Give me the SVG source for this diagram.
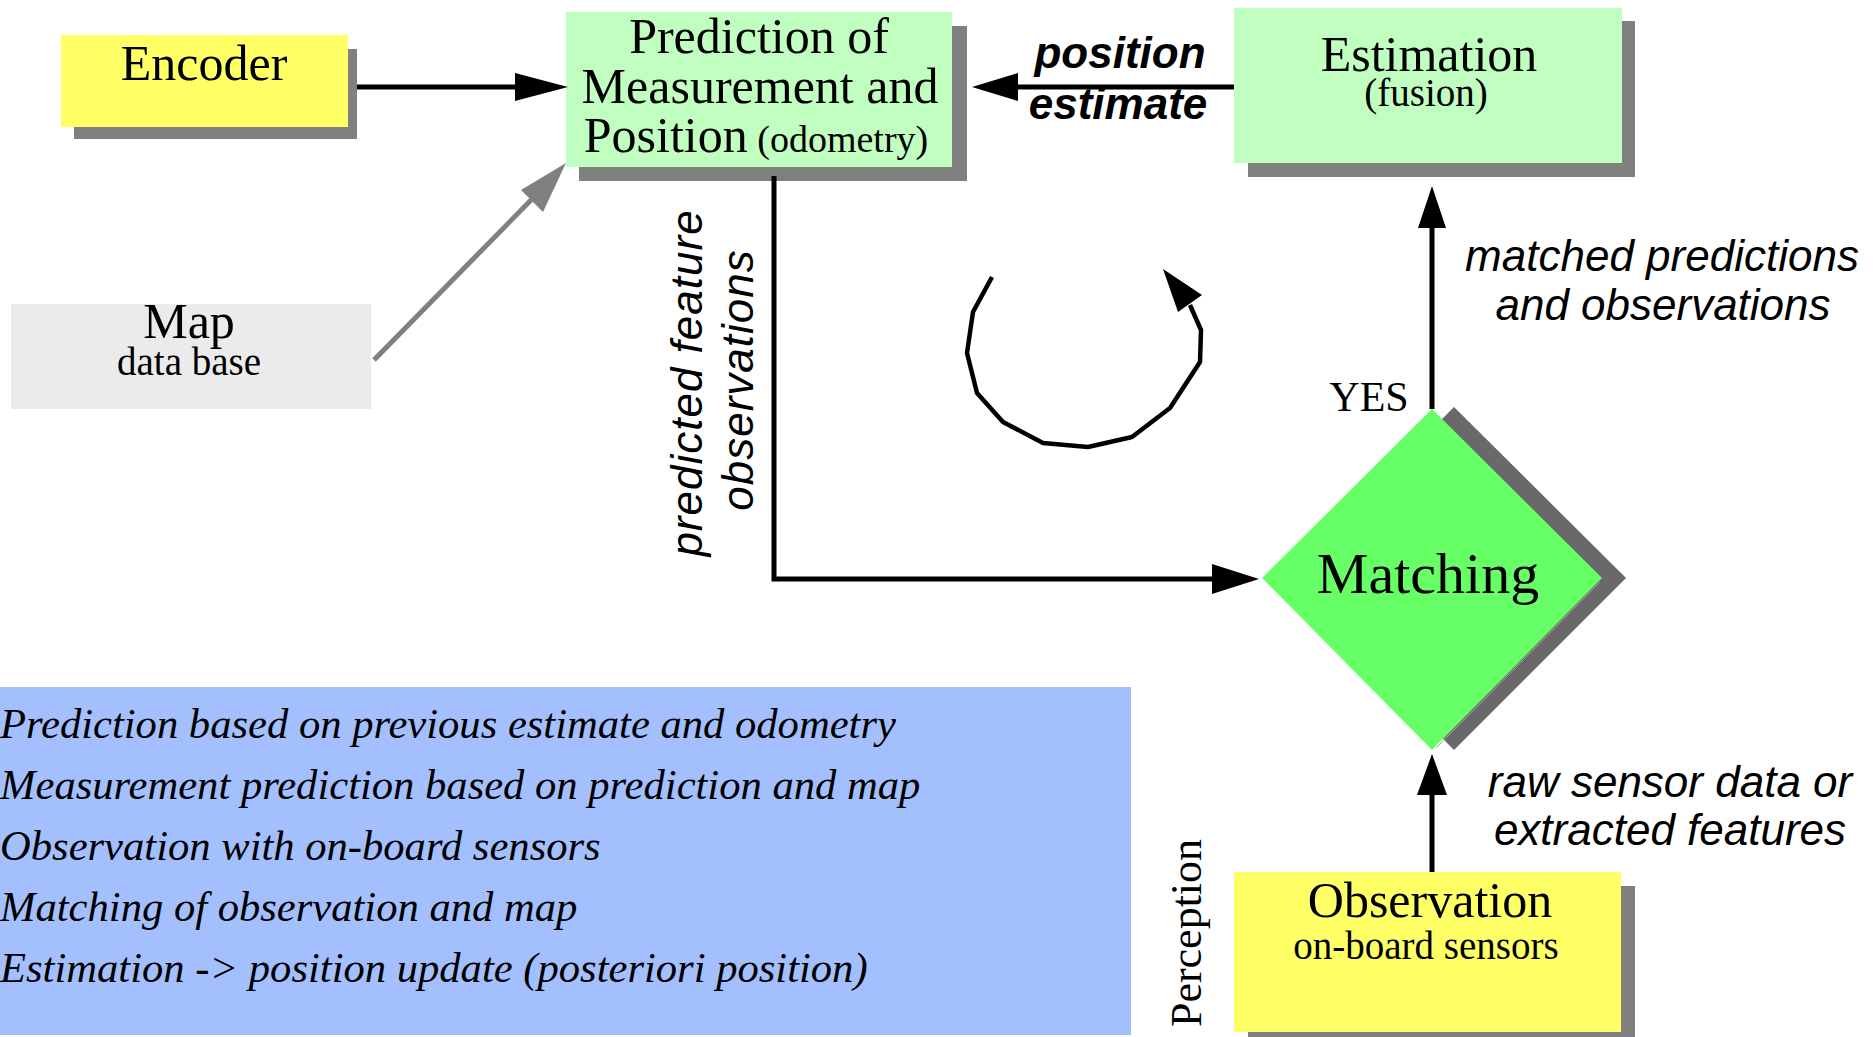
<svg xmlns="http://www.w3.org/2000/svg" width="1873" height="1037" viewBox="0 0 1873 1037">
<style>
.serif{font-family:"Liberation Serif","Times New Roman",serif;fill:#000}
.sans{font-family:"Liberation Sans",Arial,sans-serif;fill:#000}
.big{font-size:50px}
.small{font-size:39px}
.lbl{font-family:"Liberation Sans",Arial,sans-serif;font-style:italic;font-size:44px;fill:#000}
.shadow{fill:#808080}
.conn{stroke:#000;stroke-width:5;fill:none}
.head{fill:#000}
.note{font-family:"Liberation Serif","Times New Roman",serif;font-style:italic;font-size:42.6px;fill:#000}
</style>
<rect width="1873" height="1037" fill="#fff"/>

<g id="legend">
<rect x="0" y="687" width="1131" height="348" fill="#a3bffe"/>
<text class="note" x="0" y="738">Prediction based on previous estimate and odometry</text>
<text class="note" x="0" y="799">Measurement prediction based on prediction and map</text>
<text class="note" x="0" y="860">Observation with on-board sensors</text>
<text class="note" x="0" y="921">Matching of observation and map</text>
<text class="note" x="0" y="982">Estimation -&gt; position update (posteriori position)</text>
</g>

<g id="encoder">
<rect class="shadow" x="74" y="49" width="283" height="90"/>
<rect x="61" y="35" width="287" height="92" fill="#ffff66"/>
<text class="serif big" x="204" y="80" text-anchor="middle">Encoder</text>
</g>

<g id="prediction">
<rect class="shadow" x="579" y="26" width="388" height="155"/>
<rect x="566" y="12" width="386" height="155" fill="#c0ffc0"/>
<text class="serif big" x="759" y="53" text-anchor="middle">Prediction of</text>
<text class="serif big" x="760" y="103" text-anchor="middle">Measurement and</text>
<text class="serif" x="756" y="152" text-anchor="middle"><tspan font-size="50">Position</tspan><tspan font-size="38"> (odometry)</tspan></text>
</g>

<g id="estimation">
<rect class="shadow" x="1248" y="21" width="387" height="156"/>
<rect x="1234" y="8" width="388" height="155" fill="#c0ffc0"/>
<text class="serif big" x="1429" y="71" text-anchor="middle">Estimation</text>
<text class="serif small" x="1426" y="106" text-anchor="middle">(fusion)</text>
</g>

<g id="map">
<rect x="11" y="304" width="360" height="105" fill="#ebebeb"/>
<text class="serif big" x="189" y="338" text-anchor="middle">Map</text>
<text class="serif small" x="189" y="375" text-anchor="middle">data base</text>
</g>

<g id="matching">
<polygon points="1454,407 1626,578 1454,750 1284,578" fill="#696969"/>
<polygon points="1432,409 1602,578 1432,750 1262,578" fill="#66ff66"/>
<line x1="1600" y1="582" x2="1436" y2="748" stroke="#a8a8a8" stroke-width="1"/>
<text class="serif" font-size="58" x="1428" y="593" text-anchor="middle">Matching</text>
</g>

<g id="observation">
<rect class="shadow" x="1248" y="886" width="387" height="151"/>
<rect x="1234" y="872" width="387" height="160" fill="#ffff66"/>
<text class="serif big" x="1430" y="917" text-anchor="middle">Observation</text>
<text class="serif small" x="1426" y="959" text-anchor="middle">on-board sensors</text>
</g>

<g id="connectors">
<!-- Encoder to Prediction -->
<line class="conn" x1="357" y1="87" x2="518" y2="87"/>
<polygon class="head" points="568,87 515,73 515,101"/>
<!-- Map to Prediction -->
<line x1="374" y1="360" x2="535" y2="196" stroke="#808080" stroke-width="5"/>
<polygon points="566,163 521,190 543,212" fill="#808080"/>
<!-- Estimation to Prediction -->
<line class="conn" x1="1234" y1="87" x2="1015" y2="87"/>
<polygon class="head" points="972,87 1018,73 1018,101"/>
<!-- Prediction to Matching -->
<path class="conn" d="M774,176 V579 H1215"/>
<polygon class="head" points="1259,579 1212,564 1212,594"/>
<!-- Matching to Estimation -->
<line class="conn" x1="1432" y1="409" x2="1432" y2="225"/>
<polygon class="head" points="1432,186 1418,228 1446,228"/>
<!-- Observation to Matching -->
<line class="conn" x1="1432" y1="872" x2="1432" y2="792"/>
<polygon class="head" points="1432,754 1417,795 1447,795"/>
<!-- cycle -->
<polyline points="992,277 973,312 967,353 977,393 1003,422 1043,443 1088,447 1132,437 1170,408 1200,362 1201,330 1190,305" fill="none" stroke="#000" stroke-width="4.5" stroke-linejoin="round"/>
<polygon class="head" points="1163,269 1202,295 1178,312"/>
</g>

<g id="labels">
<text class="sans" font-size="44" font-weight="bold" font-style="italic" x="1120" y="68" text-anchor="middle">position</text>
<text class="sans" font-size="44" font-weight="bold" font-style="italic" x="1118" y="119" text-anchor="middle">estimate</text>
<text class="lbl" font-size="43" letter-spacing="1" transform="translate(702,383) rotate(-90)" text-anchor="middle">predicted feature</text>
<text class="lbl" font-size="43" letter-spacing="1" transform="translate(753,380) rotate(-90)" text-anchor="middle">observations</text>
<text class="serif" font-size="42" x="1369" y="411" text-anchor="middle">YES</text>
<text class="lbl" x="1662" y="271" text-anchor="middle">matched predictions</text>
<text class="lbl" x="1663" y="320" text-anchor="middle">and observations</text>
<text class="lbl" x="1670" y="797" text-anchor="middle">raw sensor data or</text>
<text class="lbl" x="1670" y="845" text-anchor="middle">extracted features</text>
<text class="serif" font-size="44" transform="translate(1201,933) rotate(-90)" text-anchor="middle">Perception</text>
</g>
</svg>
